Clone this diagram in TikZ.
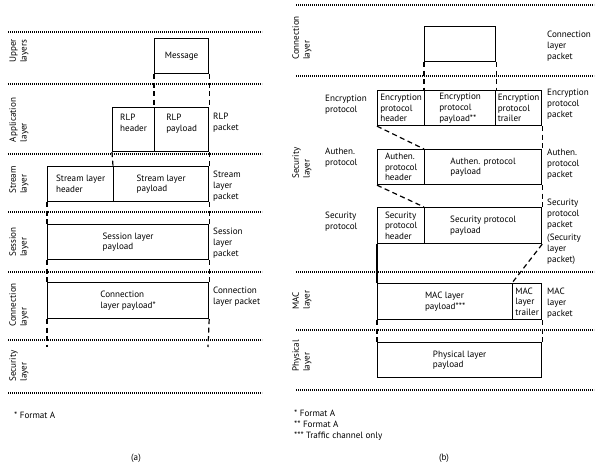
\documentclass[tikz,border=0pt]{standalone}
\usepackage{fontspec}
\setmainfont{PT Sans}
\newcommand\lblsize{\fontsize{9.1}{10.7}\selectfont}
\begin{document}
\begin{tikzpicture}[x=1pt,y=-1pt,
		cell/.style={draw,line width=1.2pt,inner sep=1pt,align=left,font=\lblsize,anchor=north west},
		txt/.style={inner sep=0pt,align=left,font=\lblsize},
		lay/.style={txt,rotate=90},
		sep/.style={line width=1.4pt,dash pattern=on 1.1pt off 0.9pt},
		link/.style={line width=1.2pt,dash pattern=on 5pt off 3.5pt}]
		\useasboundingbox (0,0) rectangle (599,474);
		
		\draw [sep] (8,32) -- (262,32); \draw [sep] (8,84) -- (262,84); \draw [sep] (8,154) -- (262,154);
		\draw [sep] (8,212) -- (262,212); \draw [sep] (8,272) -- (262,272); \draw [sep] (8,340) -- (262,340);
		\draw [sep] (8,393) -- (262,393);
		
		\node[lay] (upl) at (19,51) {Upper\\layers};
		\node[lay] (apl) at (19,120) {Application\\layer};
		\node[lay] (stl) at (19,180) {Stream\\layer};
		\node[lay] (sel) at (19,242) {Session\\layer};
		\node[lay] (col) at (19,305) {Connection\\layer};
		\node[lay] (scl) at (19,366) {Security\\layer};
		
		\node[cell,minimum width=54,minimum height=35] (msg) at (154,38) {Message};
		\node[cell,minimum width=42,minimum height=44,text depth=13pt] (rlph) at (112,107) {RLP\\header};
		\node[cell,minimum width=54,minimum height=44,text depth=13pt] (rlpp) at (154,107) {RLP\\payload};
		\node[cell,minimum width=66,minimum height=35] (sth) at (47,166) {Stream layer\\header};
		\node[cell,minimum width=95,minimum height=35] (stp) at (113,166) {Stream layer\\payload};
		\node[cell,minimum width=161,minimum height=35] (ses) at (47,224) {Session layer\\payload};
		\node[cell,minimum width=161,minimum height=36] (con) at (47,282) {Connection\\layer payload*};
		\coordinate (conl) at (47,347); \coordinate (conr) at (208,347);
		
		\draw [link] (msg.south west) -- (rlpp.north west); \draw [link] (msg.south east) -- (rlpp.north east);
		\draw [link] (rlph.south west) -- (stp.north west); \draw [link] (rlpp.south east) -- (stp.north east);
		\draw [link] (sth.south west) -- (ses.north west); \draw [link] (stp.south east) -- (ses.north east);
		\draw [link] (ses.south west) -- (con.north west); \draw [link] (ses.south east) -- (con.north east);
		\draw [link] (con.south west) -- (conl); \draw [link] (con.south east) -- (conr);
		
		\node[txt,anchor=west] (rlpk) at (213,123) {RLP\\packet};
		\node[txt,anchor=west] (stk) at (213,186) {Stream\\layer\\packet};
		\node[txt,anchor=west] (sek) at (213,243) {Session\\layer\\packet};
		\node[txt,anchor=west] (cok) at (213,297) {Connection\\layer packet};
		
		\node[txt,anchor=west] (fna) at (14,415) {* Format A};
		\node[txt] (capa) at (136,458) {(a)};
		
		\draw [sep] (296,5) -- (594,5); \draw [sep] (296,76) -- (594,76); \draw [sep] (296,272) -- (594,272);
		\draw [sep] (296,330) -- (594,330); \draw [sep] (296,390) -- (594,390);
		
		\node[lay] (bcol) at (302,38) {Connection\\layer};
		\node[lay] (bscl) at (302,163) {Security\\layer};
		\node[lay] (bmal) at (302,300) {MAC\\layer};
		\node[lay] (bphl) at (302,356) {Physical\\layer};
		
		\node[txt,anchor=west] (encl) at (325,105) {Encryption\\protocol};
		\node[txt,anchor=west] (autl) at (325,158) {Authen.\\protocol};
		\node[txt,anchor=west] (secl) at (325,222) {Security\\protocol};
		
		\node[cell,minimum width=71,minimum height=35] (clp) at (424,26) {};
		\node[cell,minimum width=47,minimum height=35] (ench) at (377,90) {Encryption\\protocol\\header};
		\node[cell,minimum width=71,minimum height=35] (encp) at (424,90) {Encryption\\protocol\\payload**};
		\node[cell,minimum width=46,minimum height=35] (enct) at (495,90) {Encryption\\protocol\\trailer};
		\node[cell,minimum width=47,minimum height=35] (auth) at (377,149) {Authen.\\protocol\\header};
		\node[cell,minimum width=117,minimum height=35] (autp) at (424,149) {Authen. protocol\\payload};
		\node[cell,minimum width=47,minimum height=36] (sech) at (377,207) {Security\\protocol\\header};
		\node[cell,minimum width=117,minimum height=36] (secp) at (424,207) {Security protocol\\payload};
		\node[cell,minimum width=135,minimum height=36] (macp) at (377,283) {MAC layer\\payload***};
		\node[cell,minimum width=29,minimum height=36] (mact) at (512,283) {MAC\\layer\\trailer};
		\node[cell,minimum width=164,minimum height=35] (phy) at (377,342) {Physical layer\\payload};
		
		\draw [link] (clp.south west) -- (encp.north west); \draw [link] (clp.south east) -- (encp.north east);
		\draw [link] (ench.south west) -- (autp.north west); \draw [link] (enct.south east) -- (autp.north east);
		\draw [link] (auth.south west) -- (secp.north west); \draw [link] (autp.south east) -- (secp.north east);
		\draw [line width=1.2pt] (sech.south west) -- (macp.north west); \draw [link] (secp.south east) -- (mact.north west);
		\draw [link] (macp.south west) -- (phy.north west); \draw [link] (mact.south east) -- (phy.north east);
		
		\node[txt,anchor=west] (clpk) at (547,46) {Connection\\layer\\packet};
		\node[txt,anchor=west] (encpk) at (547,104) {Encryption\\protocol\\packet};
		\node[txt,anchor=west] (autpk) at (547,164) {Authen.\\protocol\\packet};
		\node[txt,anchor=north west] (secpk) at (547,199) {Security\\protocol\\packet\\[3pt](Security\\layer\\packet)};
		\node[txt,anchor=west] (macpk) at (547,303) {MAC\\layer\\packet};
		
		\node[txt,anchor=north west] (fnb) at (294,410) {* Format A\\** Format A\\*** Traffic channel only};
		\node[txt] (capb) at (444,458) {(b)};
		\end{tikzpicture}
\end{document}
